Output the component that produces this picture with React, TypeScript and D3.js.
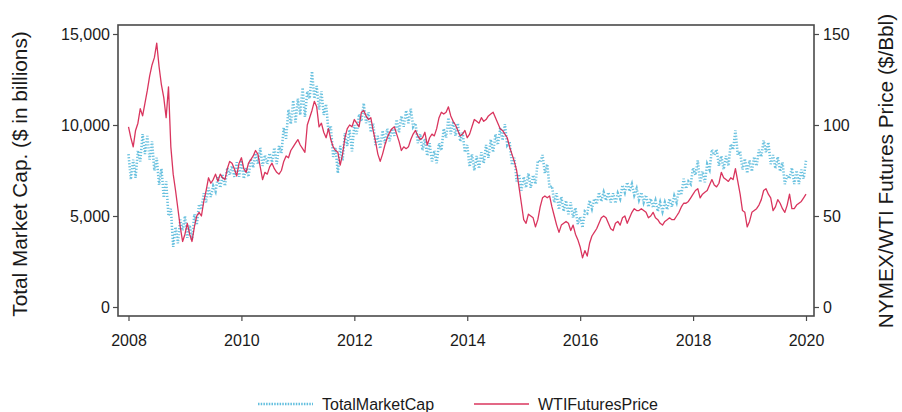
import { useEffect, useRef } from 'react'
import * as d3 from 'd3'

// half-month observations from Jan 2008 to Jan 2020
const startYear = 2008
const stepsPerYear = 24

// WTI futures price ($/Bbl)
const wtiPrice = [
  99, 93, 88, 97, 101, 109, 105, 112, 119, 127, 133, 137, 145, 132, 122, 115, 104, 121, 88, 73, 64, 54, 44, 36,
  40, 46, 40, 36, 44, 50, 52, 50, 58, 64, 71, 68, 70, 73, 69, 73, 71, 70, 76, 80, 79, 76, 72, 79,
  82, 76, 74, 79, 81, 83, 86, 84, 77, 70, 74, 73, 77, 79, 76, 74, 73, 75, 80, 83, 82, 86, 88, 90,
  92, 89, 87, 85, 100, 104, 108, 113, 110, 99, 101, 96, 93, 98, 92, 88, 86, 85, 78, 84, 93, 98, 100, 99,
  103, 101, 99, 107, 108, 105, 103, 104, 97, 91, 84, 80, 84, 89, 93, 96, 98, 99, 95, 91, 86, 88, 87, 88,
  92, 95, 97, 94, 92, 93, 96, 89, 93, 95, 94, 98, 104, 107, 106, 107, 110, 105, 102, 100, 97, 94, 95, 97,
  93, 95, 99, 103, 102, 101, 104, 102, 103, 105, 106, 107, 104, 101, 98, 97, 95, 93, 88, 84, 80, 75, 66, 57,
  48, 46, 51, 50, 49, 44, 48, 55, 60, 61, 60, 61, 55, 50, 45, 41, 45, 46, 47, 46, 42, 45, 40, 37,
  33, 27, 31, 28, 35, 39, 41, 43, 46, 49, 50, 49, 46, 43, 42, 46, 47, 45, 49, 50, 46, 49, 52, 54,
  53, 53, 54, 53, 52, 49, 50, 52, 49, 48, 46, 45, 47, 48, 49, 48, 48, 50, 52, 55, 57, 57, 58, 60,
  62, 64, 65, 60, 62, 63, 64, 67, 70, 67, 66, 68, 74, 71, 70, 69, 71, 70, 76, 69, 62, 53, 52, 44,
  47, 52, 53, 54, 56, 59, 64, 65, 62, 60, 53, 55, 59, 57, 54, 52, 56, 62, 54, 54, 56, 57, 58, 60,
  62
]

// total market capitalisation ($ in billions)
const totalMarketCap = [
  8400, 7000, 8100, 7100, 8600, 8000, 9500, 8400, 9400, 8100, 9100, 7500, 8200, 6700, 7600, 6000, 6900, 5000, 5400, 3300, 4400, 3500, 4800, 4200,
  5000, 3800, 4500, 3700, 5100, 4500, 5650, 5350, 6250, 5750, 6550, 6050, 6650, 6350, 7150, 6550, 7250, 6650, 7650, 7250, 7750, 7150, 7950, 7150,
  8050, 7050, 7650, 7150, 8150, 7650, 8450, 7850, 8750, 7750, 8350, 7850, 8450, 7950, 8750, 7850, 8850, 8450, 9850, 9250, 10850, 10050, 11350, 10150,
  11450, 10550, 12050, 10450, 11850, 11450, 12950, 11450, 12150, 10850, 11850, 10550, 11150, 9650, 9950, 8250, 8750, 7350, 8850, 8050, 9550, 8850, 9750, 8550,
  10000, 9500, 10600, 10200, 11200, 10100, 10700, 9600, 10100, 8900, 9400, 8700, 9700, 9000, 9800, 9100, 9800, 9400, 10300, 9600, 10500, 9900, 10800, 10100,
  10900, 9900, 10100, 9000, 9500, 8600, 9250, 8300, 9000, 8000, 8600, 7900, 9000, 8600, 9800, 9300, 10400, 9500, 10200, 9400, 10100, 9100, 9600, 8500,
  8900, 7700, 8400, 7500, 8300, 7600, 8500, 7900, 8900, 8200, 9200, 8500, 9500, 8900, 9850, 9150, 10050, 8900, 9100, 7800, 8200, 6900, 7300, 6400,
  7150, 6550, 7350, 6550, 7250, 6750, 8050, 7950, 8350, 7350, 7850, 6550, 6650, 5750, 6250, 5350, 6050, 5250, 5850, 5100, 5750, 4900, 5450, 4550,
  4950, 4350, 5250, 5150, 5850, 5400, 5950, 5650, 6300, 5800, 6300, 5850, 6300, 5750, 6250, 5700, 6250, 5950, 6700, 6300, 6850, 6350, 6750, 6150,
  6500, 5900, 6300, 5750, 6150, 5500, 5950, 5450, 5850, 5250, 5750, 5250, 5750, 5350, 5950, 5500, 6100, 5750, 6450, 6150, 7050, 6500, 6900, 6750,
  7650, 7250, 8050, 6850, 7450, 6850, 7850, 7550, 8650, 8350, 8650, 7750, 8300, 7550, 8300, 7750, 8950, 8650, 9700, 8350, 8550, 7550, 8150, 7350,
  8050, 7450, 8250, 7750, 8650, 8250, 9150, 8500, 9050, 7850, 8350, 7600, 8250, 7450, 7950, 6750, 7250, 7050, 7650, 6750, 7500, 6750, 7550, 7050,
  8050
]

const yearTicks = [2008, 2010, 2012, 2014, 2016, 2018, 2020]
const capTicks = [0, 5000, 10000, 15000]
const priceTicks = [0, 50, 100, 150]
const seriesNames = ['TotalMarketCap', 'WTIFuturesPrice']

const capColor = '#2fa9d3'
const wtiColor = '#d51f4c'
const font = '"Liberation Sans", Arial, sans-serif'

export default function App() {
  const svgRef = useRef<SVGSVGElement>(null)

  useEffect(() => {
    if (!svgRef.current) return
    const width = 902
    const height = 412
    const frame = { left: 118, right: 814, top: 25, bottom: 316 }

    const svg = d3.select(svgRef.current)
    svg.selectAll('*').remove()
    svg.attr('width', width).attr('height', height)

    const x = d3.scaleLinear().domain([2008, 2020]).range([128.5, 806])
    const yCap = d3.scaleLinear().domain([0, 15000]).range([307, 34])
    const yPrice = d3.scaleLinear().domain([0, 150]).range([307, 34])
    const yearOf = (i: number) => startYear + i / stepsPerYear

    // series
    const capLine = d3.line<number>()
      .x((_d: number, i: number) => x(yearOf(i)))
      .y((d: number) => yCap(d))
    const priceLine = d3.line<number>()
      .x((_d: number, i: number) => x(yearOf(i)))
      .y((d: number) => yPrice(d))

    svg.append('path')
      .attr('d', capLine(totalMarketCap))
      .attr('fill', 'none')
      .attr('stroke', capColor)
      .attr('stroke-width', 2.6)
      .attr('stroke-dasharray', '1.2,1.8')
      .attr('stroke-opacity', 0.72)

    svg.append('path')
      .attr('d', priceLine(wtiPrice))
      .attr('fill', 'none')
      .attr('stroke', wtiColor)
      .attr('stroke-width', 1.3)
      .attr('stroke-linejoin', 'round')
      .attr('stroke-opacity', 0.9)

    // frame
    svg.append('rect')
      .attr('x', frame.left)
      .attr('y', frame.top)
      .attr('width', frame.right - frame.left)
      .attr('height', frame.bottom - frame.top)
      .attr('fill', 'none')
      .attr('stroke', '#4a4a4a')
      .attr('stroke-width', 1.6)

    const styleAxis = (g: d3.Selection<SVGGElement, unknown, null, undefined>) => {
      g.select('.domain').remove()
      g.selectAll('line').attr('stroke', '#4a4a4a').attr('stroke-width', 1.2)
      g.selectAll('text').attr('fill', '#1a1a1a')
      g.attr('font-family', font).attr('font-size', 16)
    }

    // left axis
    svg.append('g')
      .attr('transform', `translate(${frame.left},0)`)
      .call(d3.axisLeft(yCap).tickValues(capTicks).tickSize(5).tickPadding(3).tickFormat(d3.format(',')))
      .call(styleAxis)

    // right axis
    svg.append('g')
      .attr('transform', `translate(${frame.right},0)`)
      .call(d3.axisRight(yPrice).tickValues(priceTicks).tickSize(5).tickPadding(4))
      .call(styleAxis)

    // bottom axis
    svg.append('g')
      .attr('transform', `translate(0,${frame.bottom})`)
      .call(d3.axisBottom(x).tickValues(yearTicks).tickSize(5).tickPadding(14).tickFormat(d3.format('d')))
      .call(styleAxis)

    // axis titles
    svg.append('text')
      .attr('transform', `translate(27,174) rotate(-90)`)
      .attr('text-anchor', 'middle')
      .attr('font-family', font)
      .attr('font-size', 20.8)
      .attr('fill', '#1a1a1a')
      .text('Total Market Cap. ($ in billions)')

    svg.append('text')
      .attr('transform', `translate(893,171) rotate(-90)`)
      .attr('text-anchor', 'middle')
      .attr('font-family', font)
      .attr('font-size', 20.8)
      .attr('fill', '#1a1a1a')
      .text('NYMEX/WTI Futures Price ($/Bbl)')

    // legend
    const legend = svg.append('g').attr('font-family', font).attr('font-size', 16)
    const items = [
      { name: seriesNames[0], x0: 258, color: capColor, dash: '1.5,1.2', w: 2.4 },
      { name: seriesNames[1], x0: 474, color: wtiColor, dash: null, w: 1.3 }
    ]
    items.forEach((it) => {
      legend.append('line')
        .attr('x1', it.x0).attr('x2', it.x0 + 55)
        .attr('y1', 404).attr('y2', 404)
        .attr('stroke', it.color)
        .attr('stroke-width', it.w)
        .attr('stroke-opacity', it.dash ? 0.75 : 0.9)
        .attr('stroke-dasharray', it.dash)
      legend.append('text')
        .attr('x', it.x0 + 64)
        .attr('y', 410)
        .attr('fill', '#1a1a1a')
        .text(it.name)
    })
  }, [])

  return (
    <svg ref={svgRef} style={{ position: 'absolute', left: 0, top: 0, background: '#fff' }} />
  )
}
